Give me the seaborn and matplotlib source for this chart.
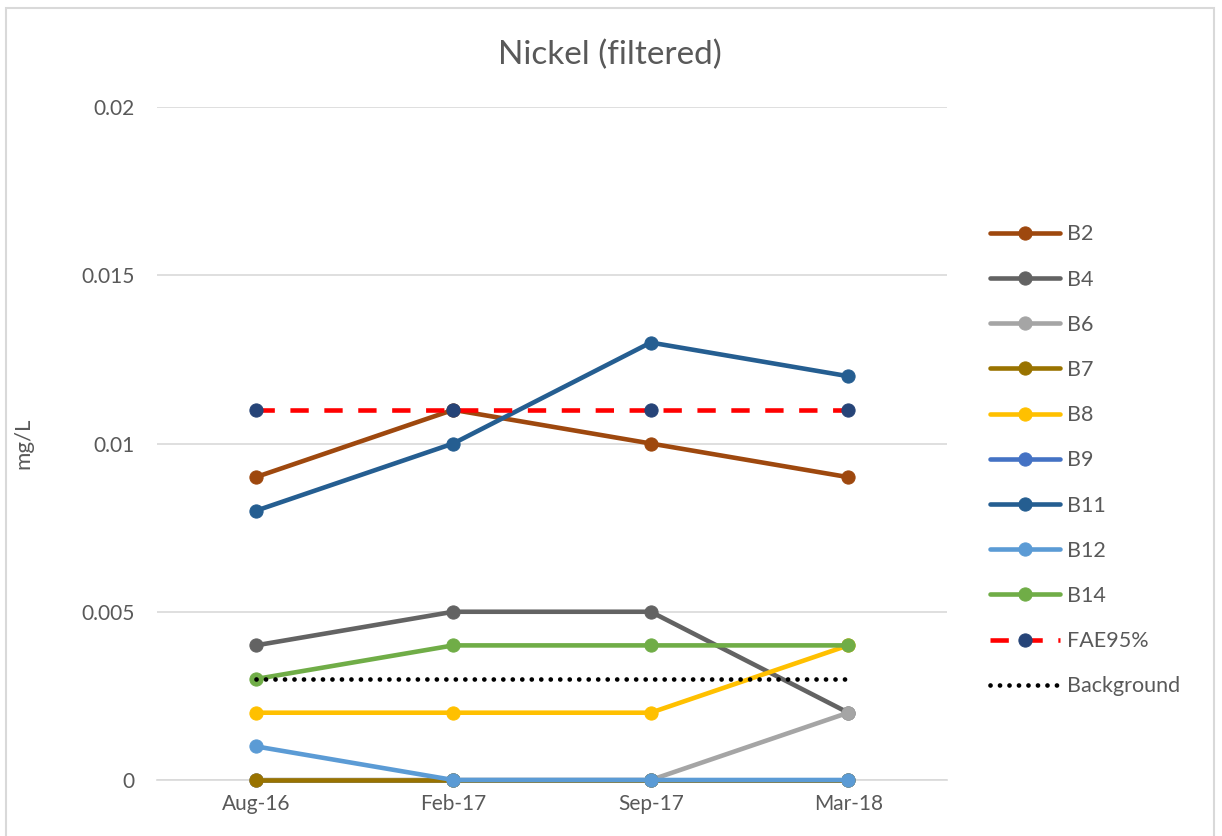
import matplotlib
matplotlib.use("Agg")
import matplotlib.pyplot as plt
import seaborn as sns
import pandas as pd
from matplotlib.patches import Rectangle

# Sampling rounds and measured filtered nickel (mg/L) per bore
dates = ["Aug-16", "Feb-17", "Sep-17", "Mar-18"]
b2 = [0.009, 0.011, 0.010, 0.009]
b4 = [0.004, 0.005, 0.005, 0.002]
b6 = [0.0, 0.0, 0.0, 0.002]
b7 = [0.0, 0.0, 0.0, 0.0]
b8 = [0.002, 0.002, 0.002, 0.004]
b9 = [0.0, 0.0, 0.0, 0.0]
b11 = [0.008, 0.010, 0.013, 0.012]
b12 = [0.001, 0.0, 0.0, 0.0]
b14 = [0.003, 0.004, 0.004, 0.004]
fae95 = [0.011, 0.011, 0.011, 0.011]
background = [0.003, 0.003, 0.003, 0.003]

series = {
    "B2": b2, "B4": b4, "B6": b6, "B7": b7, "B8": b8, "B9": b9,
    "B11": b11, "B12": b12, "B14": b14, "FAE95%": fae95, "Background": background,
}
colors = {
    "B2": "#9E480E", "B4": "#636363", "B6": "#A5A5A5", "B7": "#997300",
    "B8": "#FFC000", "B9": "#4472C4", "B11": "#255E91", "B12": "#5B9BD5",
    "B14": "#70AD47", "FAE95%": "#FF0000", "Background": "#000000",
}

sns.set_theme(style="white")
plt.rcParams["font.family"] = ["Lato", "DejaVu Sans"]

text_color = "#595959"
grid_color = "#D9D9D9"

fig = plt.figure(figsize=(12.22, 8.36), dpi=100)
ax = fig.add_axes([157 / 1222, 1 - 780 / 836, 790 / 1222, 673 / 836])

for name, vals in series.items():
    df = pd.DataFrame({"date": dates, "value": vals})
    if name == "FAE95%":
        sns.lineplot(data=df, x="date", y="value", ax=ax, color=colors[name],
                     linewidth=3.3, marker="o", markersize=9.5,
                     markerfacecolor="#264478", markeredgecolor="#264478",
                     dashes=(4, 3.4), label=name, clip_on=False, zorder=5)
    elif name == "Background":
        sns.lineplot(data=df, x="date", y="value", ax=ax, color=colors[name],
                     linewidth=3.4, dashes=(0.01, 2.0), label=name, zorder=6)
        ax.lines[-1].set_dash_capstyle("round")
    else:
        # B9 sits underneath the other zero-valued bores
        z = 3 if name == "B9" else 4
        sns.lineplot(data=df, x="date", y="value", ax=ax, color=colors[name],
                     linewidth=3.3, marker="o", markersize=9.5,
                     markeredgecolor=colors[name],
                     label=name, clip_on=False, zorder=z)

ax.set_xlim(-0.5, 3.5)
ax.set_ylim(0, 0.02)
ax.set_yticks([0, 0.005, 0.01, 0.015, 0.02])
ax.set_yticklabels(["0", "0.005", "0.01", "0.015", "0.02"])
ax.tick_params(axis="both", length=0, labelsize=15, labelcolor=text_color)
ax.tick_params(axis="y", pad=16)
ax.tick_params(axis="x", pad=10)
ax.yaxis.grid(True, color=grid_color, lw=1.2)
ax.set_axisbelow(True)
for side in ["top", "right", "left"]:
    ax.spines[side].set_visible(False)
ax.spines["bottom"].set_color(grid_color)
ax.spines["bottom"].set_linewidth(1.2)

ax.set_xlabel("")
ax.set_ylabel("mg/L", fontsize=16, color=text_color)
ax.yaxis.set_label_coords(-0.157, 0.5)

fig.text(0.499, 1 - 55 / 836, "Nickel (filtered)", ha="center", va="center",
         fontsize=24, color=text_color)

handles, labels = ax.get_legend_handles_labels()
ax.get_legend().remove()
fig.legend(handles, labels, loc="upper left",
           bbox_to_anchor=(971 / 1222, 1 - 205 / 836),
           frameon=False, fontsize=15.5, labelcolor=text_color,
           handlelength=3.25, handletextpad=0.3, labelspacing=1.17)

# Light chart border
fig.patches.append(Rectangle((6 / 1222, -0.05), 1208 / 1222, 1.05 - 8 / 836,
                             transform=fig.transFigure, fill=False,
                             edgecolor=grid_color, lw=1.5))

fig.savefig("out.png", dpi=100)
